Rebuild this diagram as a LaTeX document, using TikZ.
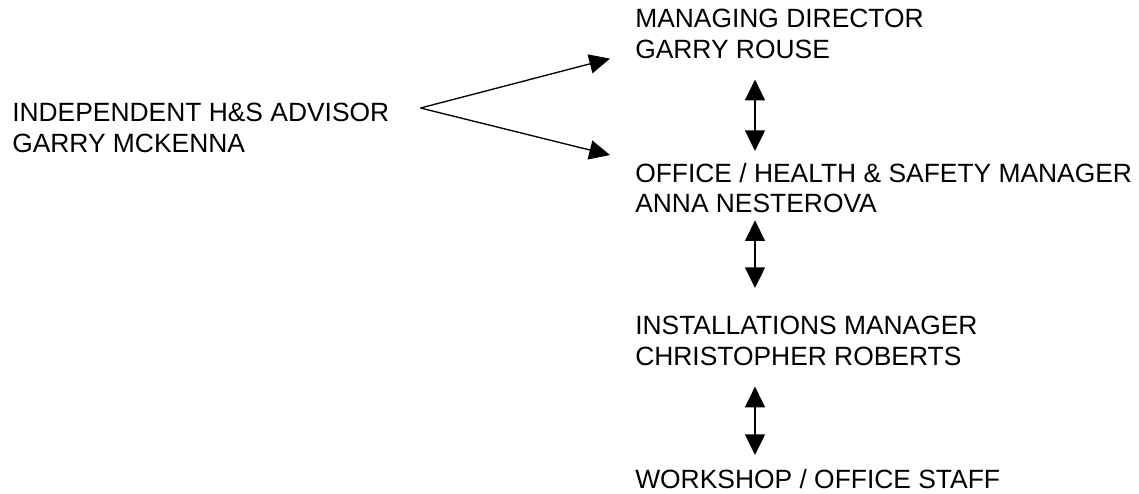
\documentclass[tikz,border=0pt]{standalone}
\usepackage{fontspec}
\setmainfont{Liberation Sans}
\usetikzlibrary{arrows.meta, calc}

\begin{document}
\begin{tikzpicture}[x=0.75pt, y=-0.75pt,
    role/.style={anchor=north west, inner sep=0pt, align=left,
      font=\fontsize{19.8}{22.8}\selectfont},
    arr/.style={-{Triangle[length=15.5pt, width=14.5pt]}, line width=1pt},
    dblarr/.style={{Triangle[length=15.5pt, width=15pt]}-{Triangle[length=15.5pt, width=15pt]}, line width=1pt}]
    \useasboundingbox (0,0) rectangle (1139,493);
    % people
    \node[role] (advisor) at (12,103) {INDEPENDENT H\&S ADVISOR\\GARRY MCKENNA};
    \node[role] (md) at (635,9) {MANAGING DIRECTOR\\GARRY ROUSE};
    \node[role] (office) at (635,163) {OFFICE / HEALTH \& SAFETY MANAGER\\ANNA NESTEROVA};
    \node[role] (install) at (635,316) {INSTALLATIONS MANAGER\\CHRISTOPHER ROBERTS};
    \node[role] (staff) at (635,469) {WORKSHOP / OFFICE STAFF};
    % advisor reports to both
    \coordinate (split) at ($(advisor.north east)+(31,5)$);
    \draw[arr] (split) -- ($(md.south west)+(-25,0)$);
    \draw[arr] (split) -- ($(office.north west)+(-25,-8)$);
    % chain down
    \draw[dblarr] ($(md.south west)+(120,21)$) -- ($(office.north west)+(120,-12)$);
    \draw[dblarr] ($(office.south west)+(120,7)$) -- ($(install.north west)+(120,-28)$);
    \draw[dblarr] ($(install.south west)+(120,21)$) -- ($(staff.north west)+(120,-14)$);
\end{tikzpicture}
\end{document}
